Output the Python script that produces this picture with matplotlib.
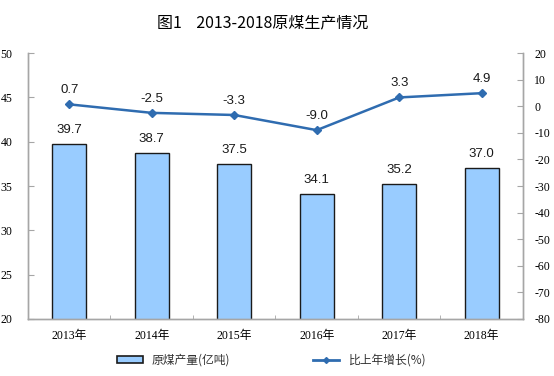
import matplotlib
matplotlib.use("Agg")
import matplotlib.pyplot as plt
from matplotlib.patches import Patch
from matplotlib.lines import Line2D

plt.rcParams['font.family'] = ['Liberation Sans', 'Noto Sans CJK SC']

years = ["2013年", "2014年", "2015年", "2016年", "2017年", "2018年"]
output = [39.7, 38.7, 37.5, 34.1, 35.2, 37.0]
growth = [0.7, -2.5, -3.3, -9.0, 3.3, 4.9]
growth_labels = ["0.7", "-2.5", "-3.3", "-9.0", "3.3", "4.9"]
left_ticks = [20, 25, 30, 35, 40, 45, 50]
right_ticks = [-80, -70, -60, -50, -40, -30, -20, -10, 0, 10, 20]

bar_color = "#99CCFF"
line_color = "#2F6CB0"
spine_color = "#A6A6A6"

fig = plt.figure(figsize=(5.54, 3.76), dpi=100)
ax = fig.add_axes([0.0505, 0.1516, 0.8935, 0.7074])
ax2 = ax.twinx()

x = list(range(len(years)))
ax.bar(x, output, width=0.41, color=bar_color, edgecolor="#1A1A1A", linewidth=1.0, zorder=2)
ax.set_xlim(-0.5, len(years) - 0.5)
ax.set_ylim(20, 50)
ax.set_yticks(left_ticks)
ax.set_yticklabels([str(t) for t in left_ticks], family=['Liberation Serif'], fontsize=8.5)
ax.set_xticks(x)
ax.set_xticklabels(years, family=['Liberation Serif', 'Noto Sans CJK SC'], fontsize=8.5)
ax.set_xticks([i + 0.5 for i in range(-1, len(years))], minor=True)
ax.tick_params(axis='x', which='major', length=0, pad=8)
ax.tick_params(axis='x', which='minor', length=3, direction='in', color=spine_color)
ax.tick_params(axis='y', direction='in', length=4, color=spine_color, pad=11)
for i, v in enumerate(output):
    ax.annotate(f"{v:.1f}", (i, v), xytext=(0, 6), textcoords='offset points',
                ha='center', va='bottom', fontsize=9.5, color="#1A1A1A")

ax2.plot(x, growth, color=line_color, linewidth=1.8, marker='D', markersize=4.5, zorder=3)
ax2.set_ylim(-80, 20)
ax2.set_yticks(right_ticks)
ax2.set_yticklabels([str(t) for t in right_ticks], family=['Liberation Serif'], fontsize=8.5)
ax2.tick_params(axis='y', direction='in', length=4, color=spine_color, pad=8)
for i, v in enumerate(growth):
    ax2.annotate(growth_labels[i], (i, v), xytext=(0, 6), textcoords='offset points',
                 ha='center', va='bottom', fontsize=9.5, color="#1A1A1A")

for a in (ax, ax2):
    a.spines['top'].set_visible(False)
    for s in ('left', 'right', 'bottom'):
        a.spines[s].set_color(spine_color)
        a.spines[s].set_linewidth(1.0)

fig.text(0.475, 0.94, "图1    2013-2018原煤生产情况", ha='center', va='center',
         fontsize=11.5, family=['Noto Sans CJK SC'])

handles = [Patch(facecolor=bar_color, edgecolor="#1A1A1A", linewidth=1.2),
           Line2D([0], [0], color=line_color, linewidth=2, marker='D', markersize=3)]
fig.legend(handles, ["原煤产量(亿吨)", "比上年增长(%)"], loc='center',
           bbox_to_anchor=(0.49, 0.043), ncol=2, frameon=False,
           columnspacing=7, handlelength=2.2, handleheight=0.5,
           prop={'family': ['Noto Sans CJK SC'], 'size': 8.5}, labelcolor="#333333")

fig.savefig("out.png", dpi=100)
